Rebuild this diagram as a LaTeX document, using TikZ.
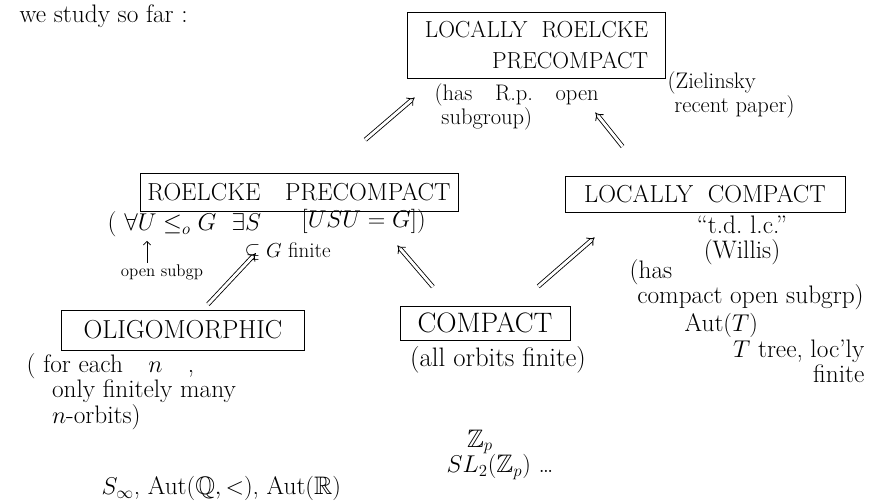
\documentclass[tikz,border=0pt]{standalone}
\usepackage{amsmath,amssymb}
\usetikzlibrary{arrows.meta}

\tikzset{
  box/.style={draw, line width=0.6pt, inner sep=2pt,
    font=\fontsize{17.5}{19}\selectfont},
  note/.style={inner sep=1pt, font=\fontsize{18}{18}\selectfont},
  small note/.style={inner sep=1pt, font=\fontsize{12}{14}\selectfont},
  implies/.style={draw, double, double distance=2pt, line width=0.6pt,
    -{Implies}}
}

\begin{document}
\begin{tikzpicture}[x=0.025cm, y=-0.025cm]
      \useasboundingbox (0,0) rectangle (881,503);
      % the classes
      \node[box, minimum width=6.43cm, minimum height=1.65cm, align=right,
            font=\fontsize{16.5}{22}\selectfont]
        (lrp) at (536.5,45) {LOCALLY\ \ ROELCKE\\PRECOMPACT};
      \node[box, minimum width=7.95cm, minimum height=0.95cm]
        (rp) at (299,192) {ROELCKE\quad PRECOMPACT};
      \node[box, minimum width=7.0cm, minimum height=0.9cm]
        (lc) at (705,194) {LOCALLY\ \ COMPACT};
      \node[box, minimum width=6.08cm, minimum height=1.0cm, font=\fontsize{18.5}{20}\selectfont]
        (olig) at (183,330) {OLIGOMORPHIC};
      \node[box, minimum width=4.25cm, minimum height=0.85cm, font=\fontsize{20}{22}\selectfont]
        (comp) at (485,323) {COMPACT};
      % remarks
      \node[note, anchor=west] (head) at (18,16) {we study so far :};
      \node[note, anchor=north west, align=left, font=\fontsize{16}{17}\selectfont]
        (lrpsub) at (433,82) {(has\quad R.p.\quad open\\ \ subgroup)};
      \node[note, anchor=north west, align=left, font=\fontsize{16}{17}\selectfont]
        (ziel) at (666,70) {(Zielinsky\\ \ recent paper)};
      \node[note, anchor=base west]
        (forall) at (106,231) {( $\forall U\leq_{o}G$ \ $\exists S$};
      \node[note, anchor=base west] (usu) at (300,228) {$[USU=G])$};
      \node[note, anchor=base west, font=\fontsize{15}{16}\selectfont]
        (fin) at (243,258) {$\subseteq G$ finite};
      \node[small note] (opensg) at (162,272) {open subgp};
      \coordinate (uarg) at (147,241);
      \draw[-{Straight Barb}, line width=0.5pt] (opensg.north -| uarg) -- (uarg);
      \node[note, anchor=north, align=center]
        (tdlc) at (742,214) {``t.d.\ l.c.''\\(Willis)};
      \node[note, anchor=north west, align=left]
        (lcsub) at (628,258) {(has\\ \ compact open subgrp)};
      \node[note, anchor=north west, align=left]
        (oligsub) at (25,352) {( for each\quad $n$\quad ,\\ \quad only finitely many\\ \quad $n$-orbits)};
      \node[note, anchor=base west]
        (oligex) at (100,495) {$S_\infty$, Aut$(\mathbb{Q},<)$, Aut$(\mathbb{R})$};
      \node[note, font=\fontsize{19}{20}\selectfont] (compsub) at (498,360) {(all orbits finite)};
      \node[note] (zp) at (480,442) {$\mathbb{Z}_p$};
      \node[note, anchor=west] (sl) at (445,467) {$SL_2(\mathbb{Z}_p)$ \dots};
      \node[note, anchor=west] (autt) at (683,325) {Aut$(T)$};
      \node[note, anchor=north east, align=right]
        (tree) at (866,338) {$T$ tree, loc'ly\\finite};
      % implications
      \draw[implies, shorten <=1.26cm, shorten >=0.73cm]
        ([xshift=0.7cm]rp.north) -- ([xshift=-2.49cm]lrp.south);
      \draw[implies, shorten <=0.93cm, shorten >=1.09cm]
        ([xshift=-1.48cm]lc.north) -- ([xshift=0.79cm]lrp.south);
      \draw[implies, shorten <=0.18cm, shorten >=1.43cm]
        ([xshift=0.5cm]olig.north) -- ([xshift=-0.1cm]rp.south);
      \draw[implies, shorten <=0.62cm, shorten >=1.12cm]
        ([xshift=-0.9cm]comp.north) -- ([xshift=1.73cm]rp.south);
      \draw[implies, shorten <=0.73cm, shorten >=0.95cm]
        ([xshift=0.78cm]comp.north) -- ([xshift=-2.04cm]lc.south);
    \end{tikzpicture}
\end{document}
